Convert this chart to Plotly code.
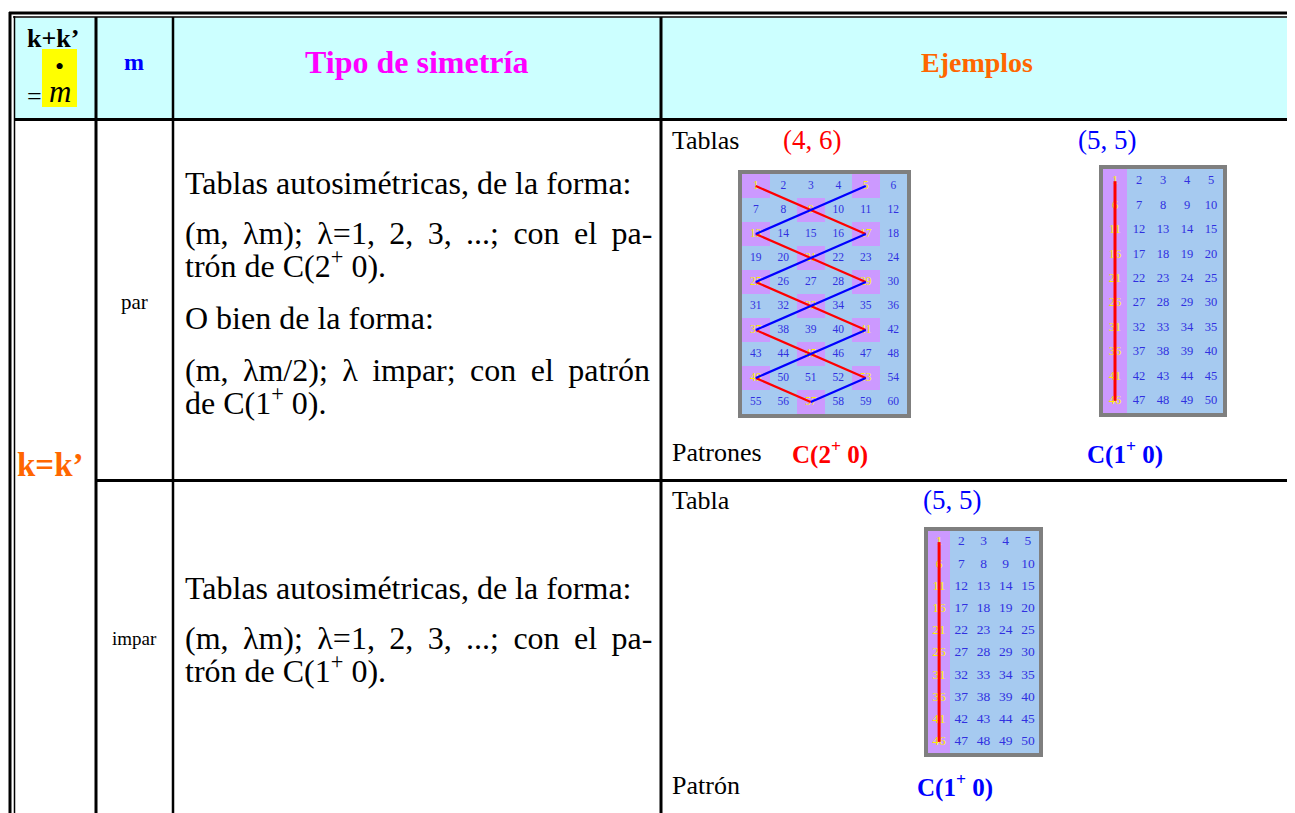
import plotly.graph_objects as go

W, H = 1295, 813
OFF = 8  # page body margin: figure coordinates equal page pixels
FW, FH = W - OFF, H - OFF
SERIF = "Liberation Serif, Times New Roman, serif"

# ---------------- data ----------------
header_texts = ["k+k’", "m", "Tipo de simetría", "Ejemplos"]
kk_label = "k=k’"
parity_labels = ["par", "impar"]
sym_par_lines = [
    "Tablas autosimétricas, de la forma:",
    "(m,\u2009 λm);\u2009 λ=1,\u2009 2,\u2009 3,\u2009 ...;\u2009 con\u2009 el\u2009 pa-",
    "trón de C(2<sup>+</sup> 0).",
    "O bien de la forma:",
    "(m,\u2009 λm/2);\u2009 λ\u2009 impar;\u2009 con\u2009 el\u2009 patrón",
    "de C(1<sup>+</sup> 0).",
]
sym_impar_lines = [
    "Tablas autosimétricas, de la forma:",
    "(m,\u2009 λm);\u2009 λ=1,\u2009 2,\u2009 3,\u2009 ...;\u2009 con\u2009 el\u2009 pa-",
    "trón de C(1<sup>+</sup> 0).",
]
ex_par_labels = ["Tablas", "Patrones"]
ex_par_sizes = ["(4, 6)", "(5, 5)"]
ex_par_patterns = ["C(2<sup>+</sup> 0)", "C(1<sup>+</sup> 0)"]
ex_impar_labels = ["Tabla", "Patrón"]
ex_impar_sizes = ["(5, 5)"]
ex_impar_patterns = ["C(1<sup>+</sup> 0)"]

# grid 1: table (4, 6) shown as 10 rows x 6 columns
g1_numbers = list(range(1, 61))
g1_marked = [1, 5, 9, 13, 17, 21, 25, 29, 33, 37, 41, 45, 49, 53, 57]
g1_red = [(1, 17), (13, 29), (25, 41), (37, 53), (49, 57)]
g1_blue = [(13, 5), (25, 17), (37, 29), (49, 41), (57, 53)]
# grid 2 and 3: table (5, 5) shown as 10 rows x 5 columns
g2_numbers = list(range(1, 51))
g2_marked = [1, 6, 11, 16, 21, 26, 31, 36, 41, 46]
g2_red = [(1, 46)]
g2_blue = []
g3_numbers = list(range(1, 51))
g3_marked = [1, 6, 11, 16, 21, 26, 31, 36, 41, 46]
g3_red = [(1, 46)]
g3_blue = []

# ---------------- layout / style ----------------
grids = [
    dict(numbers=g1_numbers, marked=g1_marked, red=g1_red, blue=g1_blue,
         rows=10, cols=6, x0=742, x1=907, y0=174, y1=414, font=11.5, lw=2.2),
    dict(numbers=g2_numbers, marked=g2_marked, red=g2_red, blue=g2_blue,
         rows=10, cols=5, x0=1103, x1=1223, y0=169, y1=413, font=12.5, lw=3),
    dict(numbers=g3_numbers, marked=g3_marked, red=g3_red, blue=g3_blue,
         rows=10, cols=5, x0=928, x1=1039, y0=531, y1=753, font=13.5, lw=3),
]
CELL_BLUE = "#A6CAF0"
CELL_PURPLE = "#CC99FF"
NUM_BLUE = "#3030E0"
NUM_YELLOW = "#FFF000"
FRAME = "#7F7F7F"

fig = go.Figure()
shapes = []
annotations = []

# background fills
shapes.append(dict(type="rect", xref="x", yref="y", x0=15, x1=W + 5, y0=18, y1=118,
                   fillcolor="#CCFFFF", line=dict(width=0), layer="below"))
shapes.append(dict(type="rect", xref="x", yref="y", x0=42, x1=77, y0=49, y1=107,
                   fillcolor="#FFFF00", line=dict(width=0), layer="below"))

# table rules
rules = [
    (9, 13, W + 5, 13, 3), (13, 17, W + 5, 17, 1.5),
    (10, 12, 10, H + 5, 3), (14.5, 16, 14.5, H + 5, 1.5),
    (14, 119.5, W + 5, 119.5, 3),
    (96, 17, 96, H + 5, 3), (173, 17, 173, H + 5, 2.5), (661, 17, 661, H + 5, 3),
    (96, 480.5, W + 5, 480.5, 3),
]
for x0, y0, x1, y1, w in rules:
    shapes.append(dict(type="line", xref="x", yref="y", x0=x0, y0=y0, x1=x1, y1=y1,
                       line=dict(color="black", width=w)))


def ann(text, x, y, size, color="black", xanchor="center", bold=False):
    if bold:
        text = "<b>" + text + "</b>"
    annotations.append(dict(text=text, x=x, y=y, xref="x", yref="y", showarrow=False,
                            xanchor=xanchor, yanchor="middle",
                            font=dict(family=SERIF, size=size, color=color)))


# header
ann(header_texts[0], 53, 38, 26, bold=True)
ann("•", 59, 66, 26)
ann("=", 34, 96, 26)
ann("<i>m</i>", 60, 91, 31)
ann(header_texts[1], 134, 62, 24, color="#0000FF", bold=True)
ann(header_texts[2], 416, 62, 32, color="#FF00FF", bold=True)
ann(header_texts[3], 977, 62, 28, color="#FF6600", bold=True)

# first column / second column
ann(kk_label, 50, 465, 33, color="#FF6600", bold=True)
ann(parity_labels[0], 134, 302, 21)
ann(parity_labels[1], 134, 638, 19)

# symmetry descriptions
par_y = [183, 233, 264, 318, 370, 401]
for t, y in zip(sym_par_lines, par_y):
    ann(t, 183, y, 32, xanchor="left")
impar_y = [588, 638, 669]
for t, y in zip(sym_impar_lines, impar_y):
    ann(t, 183, y, 32, xanchor="left")

# example labels
ann(ex_par_labels[0], 670, 140, 26, xanchor="left")
ann(ex_par_sizes[0], 812, 140, 27, color="#FF0000")
ann(ex_par_sizes[1], 1107, 140, 27, color="#0000FF")
ann(ex_par_labels[1], 670, 452, 26, xanchor="left")
ann(ex_par_patterns[0], 830, 452, 25, color="#FF0000", bold=True)
ann(ex_par_patterns[1], 1125, 452, 25, color="#0000FF", bold=True)
ann(ex_impar_labels[0], 670, 500, 26, xanchor="left")
ann(ex_impar_sizes[0], 952, 500, 27, color="#0000FF")
ann(ex_impar_labels[1], 670, 785, 26, xanchor="left")
ann(ex_impar_patterns[0], 955, 785, 25, color="#0000FF", bold=True)

layout_axes = {}
for i, g in enumerate(grids, start=2):
    xa, ya = f"x{i}", f"y{i}"
    rows, cols = g["rows"], g["cols"]
    marked = set(g["marked"])
    z = [[0] * cols for _ in range(rows)]
    tx, ty, tt, tc = [], [], [], []
    for n in g["numbers"]:
        c, r = (n - 1) % cols, (n - 1) // cols
        z[r][c] = 1 if n in marked else 0
        tx.append(c)
        ty.append(r)
        tt.append(str(n))
        tc.append(NUM_YELLOW if n in marked else NUM_BLUE)
    fig.add_trace(go.Heatmap(z=z, x=list(range(cols)), y=list(range(rows)),
                             colorscale=[[0, CELL_BLUE], [1, CELL_PURPLE]],
                             zmin=0, zmax=1, showscale=False, hoverinfo="skip",
                             xaxis=xa, yaxis=ya))
    fig.add_trace(go.Scatter(x=tx, y=ty, text=tt, mode="text",
                             textfont=dict(family=SERIF, size=g["font"], color=tc),
                             hoverinfo="skip", showlegend=False, cliponaxis=False,
                             xaxis=xa, yaxis=ya))

    def seg(pairs):
        xs, ys = [], []
        for a, b in pairs:
            for n in (a, b):
                xs.append((n - 1) % cols)
                ys.append((n - 1) // cols)
            xs.append(None)
            ys.append(None)
        return xs, ys

    for pairs, col in ((g["red"], "#FF0000"), (g["blue"], "#0000FF")):
        if pairs:
            xs, ys = seg(pairs)
            fig.add_trace(go.Scatter(x=xs, y=ys, mode="lines",
                                     line=dict(color=col, width=g["lw"]),
                                     hoverinfo="skip", showlegend=False,
                                     cliponaxis=False, xaxis=xa, yaxis=ya))
    layout_axes[f"xaxis{i}"] = dict(domain=[(g["x0"] - OFF) / FW, (g["x1"] - OFF) / FW],
                                    range=[-0.5, cols - 0.5], visible=False,
                                    fixedrange=True, anchor=ya)
    layout_axes[f"yaxis{i}"] = dict(domain=[1 - (g["y1"] - OFF) / FH, 1 - (g["y0"] - OFF) / FH],
                                    range=[rows - 0.5, -0.5], visible=False,
                                    fixedrange=True, anchor=xa)
    shapes.append(dict(type="rect", xref="x", yref="y",
                       x0=g["x0"] - 2, x1=g["x1"] + 2, y0=g["y0"] - 2, y1=g["y1"] + 2,
                       line=dict(color=FRAME, width=4), fillcolor="rgba(0,0,0,0)"))

fig.update_layout(
    width=FW, height=FH,
    margin=dict(l=0, r=0, t=0, b=0),
    paper_bgcolor="white", plot_bgcolor="white",
    xaxis=dict(range=[OFF, W], visible=False, fixedrange=True, domain=[0, 1]),
    yaxis=dict(range=[H, OFF], visible=False, fixedrange=True, domain=[0, 1]),
    shapes=shapes, annotations=annotations,
    showlegend=False, hovermode=False,
    **layout_axes,
)

fig.write_html("out.html", config={"displayModeBar": False})
